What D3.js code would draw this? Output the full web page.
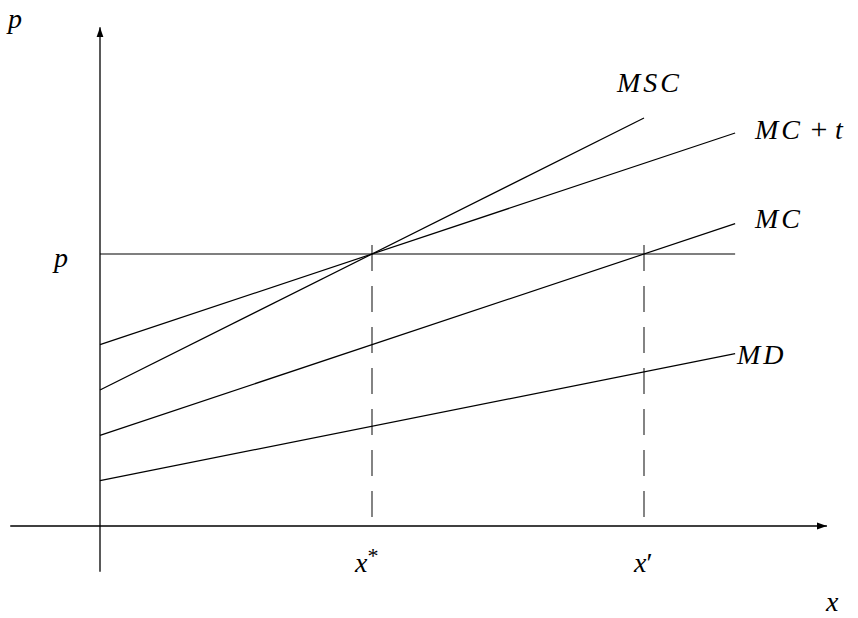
<!doctype html>
<html>
  <head>
    <script src="https://d3js.org/d3.v7.min.js"></script>
    <style>
      body { margin: 0; background: #fff; }
      text { font-family: "Liberation Serif", serif; font-size: 28px; fill: #000; }
      .it { font-style: italic; }
    </style>
  </head>
  <body>
    <div id="chart"></div>
    <script>
      // curves: name, intercept on the p axis, slope, last x drawn
      var curveNames = ["MC + t", "MSC", "MC", "MD"];
      var intercepts = [4, 3, 2, 1];
      var slopes = [0.5, 0.75, 0.5, 0.3];
      var curveEnds = [9.34, 8, 9.34, 9.34];

      // price level and the two quantities on the x axis
      var priceLevel = 6;
      var quantities = [4, 8];
      var quantityLabels = ["x*", "x′"];

      var width = 858, height = 618;

      // 0 on both axes sits at the origin of the diagram
      var x = d3.scaleLinear().domain([0, 10]).range([100, 780]);
      var y = d3.scaleLinear().domain([0, 6]).range([526, 254]);

      var svg = d3.select("#chart").append("svg")
        .attr("width", width)
        .attr("height", height);

      svg.append("defs").append("marker")
        .attr("id", "arrow")
        .attr("viewBox", "0 0 10 10")
        .attr("refX", 10).attr("refY", 5)
        .attr("markerWidth", 10).attr("markerHeight", 10)
        .attr("markerUnits", "userSpaceOnUse")
        .attr("orient", "auto")
        .append("path")
        .attr("d", "M0,1.5 L10,5 L0,8.5 Z")
        .attr("fill", "#000");

      // axes
      svg.append("line")
        .attr("x1", x(-1.32)).attr("y1", y(0))
        .attr("x2", x(10.69)).attr("y2", y(0))
        .attr("stroke", "#000").attr("stroke-width", 1.3)
        .attr("marker-end", "url(#arrow)");
      svg.append("line")
        .attr("x1", x(0)).attr("y1", y(-1.01))
        .attr("x2", x(0)).attr("y2", y(11))
        .attr("stroke", "#000").attr("stroke-width", 1.3)
        .attr("marker-end", "url(#arrow)");

      // horizontal price line
      svg.append("line")
        .attr("x1", x(0)).attr("y1", y(priceLevel))
        .attr("x2", x(9.34)).attr("y2", y(priceLevel))
        .attr("stroke", "#000").attr("stroke-width", 1.2);

      // dashed drop lines
      svg.selectAll(".drop")
        .data(quantities)
        .enter()
        .append("line")
        .attr("class", "drop")
        .attr("x1", function(d) { return x(d); })
        .attr("x2", function(d) { return x(d); })
        .attr("y1", y(priceLevel) - 9)
        .attr("y2", y(0))
        .attr("stroke", "#333")
        .attr("stroke-width", 1.2)
        .attr("stroke-dasharray", "26,15");

      // the four curves
      var curves = curveNames.map(function(n, i) {
        return { name: n, a: intercepts[i], b: slopes[i], end: curveEnds[i] };
      });

      svg.selectAll(".curve")
        .data(curves)
        .enter()
        .append("line")
        .attr("class", "curve")
        .attr("x1", x(0))
        .attr("y1", function(d) { return y(d.a); })
        .attr("x2", function(d) { return x(d.end); })
        .attr("y2", function(d) { return y(d.a + d.b * d.end); })
        .attr("stroke", "#000")
        .attr("stroke-width", 1.2);

      // curve labels
      var labelPos = {
        "MC + t": [755, 139],
        "MSC": [617, 92],
        "MC": [755, 228],
        "MD": [737, 364]
      };

      function label(txt, px, py) {
        var t = svg.append("text").attr("x", px).attr("y", py);
        if (txt === "MC + t") {
          t.append("tspan").attr("class", "it").attr("letter-spacing", 3).text("MC");
          t.append("tspan").attr("font-size", 30).text(" + ");
          t.append("tspan").attr("class", "it").text("t");
        } else {
          t.append("tspan").attr("class", "it").attr("letter-spacing", 3).text(txt);
        }
        return t;
      }

      curves.forEach(function(d) {
        var p = labelPos[d.name];
        label(d.name, p[0], p[1]);
      });

      // axis labels
      svg.append("text").attr("class", "it").attr("x", 8).attr("y", 28).attr("font-size", 30).text("p");
      svg.append("text").attr("class", "it").attr("x", 54).attr("y", y(priceLevel) + 13).attr("font-size", 30).text("p");
      svg.append("text").attr("class", "it").attr("x", 826).attr("y", 611).attr("font-size", 30).text("x");

      // quantity labels
      svg.selectAll(".qlab")
        .data(quantities)
        .enter()
        .append("text")
        .attr("class", "qlab it")
        .attr("font-size", 30)
        .attr("x", function(d, i) { return x(d) - (i === 0 ? 17 : 10); })
        .attr("y", 572)
        .each(function(d, i) {
          var t = d3.select(this);
          t.append("tspan").text("x");
          if (i === 0) {
            t.append("tspan").attr("dy", -9).attr("font-size", 22).attr("font-style", "normal").text("*");
          } else {
            t.append("tspan").attr("font-style", "normal").text("′");
          }
        });
    </script>
  </body>
</html>
